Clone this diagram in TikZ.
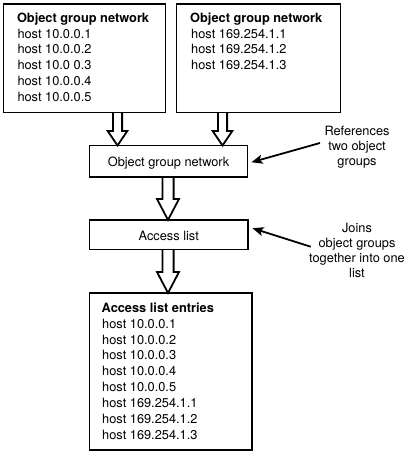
\documentclass[tikz,border=0pt]{standalone}
\usepackage{fontspec}
\setmainfont{TeX Gyre Heros}
\usetikzlibrary{arrows.meta,calc}
\pgfdeclarelayer{bg}
\pgfsetlayers{bg,main}
\newcommand\lblfont{\fontsize{12.8}{15.85}\selectfont}
% hollow block arrow: top, tip, shaft half width, head half width, head length
\newcommand\harrow[5]{%
  \draw[hollow] let \p1=(#1), \p2=(#2) in
    (\x1-#3pt,\y1) -- (\x1-#3pt,\y2+#5pt) -- (\x1-#4pt,\y2+#5pt) -- (\x1,\y2)
    -- (\x1+#4pt,\y2+#5pt) -- (\x1+#3pt,\y2+#5pt) -- (\x1+#3pt,\y1);}
\begin{document}
\begin{tikzpicture}[x=1pt,y=-1pt,
  box/.style={draw, line width=1.9pt, inner sep=0pt, outer sep=0pt, anchor=north west},
  txt/.style={anchor=base west, inner sep=0pt, font=\lblfont},
  note/.style={anchor=base, inner sep=0pt, font=\lblfont},
  hollow/.style={draw, fill=white, line width=1.8pt, line join=miter},
  pointer/.style={-{Stealth[length=11pt,width=9pt,inset=2.5pt]}, line width=1.8pt}]
\useasboundingbox (0,0) rectangle (409,452);

% boxes
\node[box, minimum width=162pt, minimum height=108.5pt] (g1) at (3.5,4) {};
\node[box, minimum width=164pt, minimum height=108.5pt] (g2) at (176.5,4) {};
\node[box, minimum width=158pt, minimum height=31.5pt, font=\lblfont,
      text height=11pt, text depth=0pt] (mid) at (89.5,145.5) {Object group network};
\node[box, minimum width=158.5pt, minimum height=29.5pt, font=\lblfont,
      text height=11pt, text depth=0pt] (acc) at (89.5,220) {Access list};
\node[box, minimum width=162.5pt, minimum height=157pt] (ent) at (89.5,293) {};

% box texts
\node[txt, font=\lblfont\bfseries] (g1h) at (16.8,22.3) {Object group network};
\foreach \t [count=\i] in {10.0.0.1,10.0.0.2,10.0 0.3,10.0.0.4,10.0.0.5}
  \node[txt] (g1l\i) at (17.3,{22.3+15.85*\i}) {host \t};
\node[txt, font=\lblfont\bfseries] (g2h) at (190,22.3) {Object group network};
\foreach \t [count=\i] in {169.254.1.1,169.254.1.2,169.254.1.3}
  \node[txt] (g2l\i) at (191,{22.3+15.85*\i}) {host \t};
\node[txt, font=\lblfont\bfseries] (enth) at (101.5,312.3) {Access list entries};
\foreach \t [count=\i] in {10.0.0.1,10.0.0.2,10.0.0.3,10.0.0.4,10.0.0.5,169.254.1.1,169.254.1.2,169.254.1.3}
  \node[txt] (entl\i) at (102,{312.3+15.85*\i}) {host \t};

% notes
\foreach \t [count=\i] in {References,two object,groups}
  \node[note] (n1l\i) at (357,{135.5+15*(\i-1)}) {\t};
\foreach \t [count=\i] in {Joins,object groups,together into one,list}
  \node[note] (n2l\i) at (357,{232+15.3*(\i-1)}) {\t};

% pointers
\coordinate (r1) at (320,143);
\coordinate (r2) at (310.7,246.7);
\draw[pointer] (r1) -- ($(mid.east)+(4,1)$);
\draw[pointer] (r2) -- ($(acc.east)+(4.5,-6.5)$);

% hollow arrows
\begin{pgfonlayer}{bg}
\harrow{117.5,0 |- g1.south}{117.5,0 |- mid.north}{4.6}{9.8}{14.5}
\harrow{222.5,0 |- g2.south}{222.5,0 |- mid.north}{4.6}{9.8}{14.5}
\harrow{168,0 |- mid.south}{168,0 |- acc.north}{5.6}{11}{21}
\harrow{168,0 |- acc.south}{168,0 |- ent.north}{5.6}{11}{21}
\end{pgfonlayer}
\end{tikzpicture}
\end{document}
